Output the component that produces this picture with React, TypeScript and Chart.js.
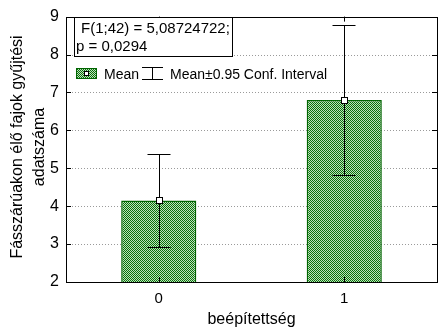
import React, { useEffect, useRef } from "react";
import { Chart, registerables } from "chart.js";

Chart.register(...registerables);

const categories = ["0", "1"];
const means = [4.15, 6.8];
const ciLow = [2.93, 4.82];
const ciHigh = [5.37, 8.77];
const yTicks = [2, 3, 4, 5, 6, 7, 8, 9];
const statLine1 = "F(1;42) = 5,08724722;";
const statLine2 = "p = 0,0294";
const legendMean = "Mean";
const legendCI = "Mean±0.95 Conf. Interval";
const yTitle = ["Fásszárúakon élő fajok gyűjtési", "adatszáma"];
const xTitle = "beépítettség";

function makePattern(ctx: CanvasRenderingContext2D) {
  const c = document.createElement("canvas");
  c.width = 2;
  c.height = 2;
  const g = c.getContext("2d")!;
  g.fillStyle = "#bce2bc";
  g.fillRect(0, 0, 2, 2);
  g.fillStyle = "#0a700a";
  g.fillRect(0, 0, 1, 1);
  g.fillRect(1, 1, 1, 1);
  return ctx.createPattern(c, "repeat")!;
}

const FONT = "'Liberation Sans', Arial, sans-serif";

const gridPlugin = {
  id: "dotgrid",
  beforeDatasetsDraw(chart: any) {
    const ctx = chart.ctx as CanvasRenderingContext2D;
    const { left, right } = chart.chartArea;
    const y = chart.scales.y;
    ctx.save();
    ctx.strokeStyle = "#9a9a9a";
    ctx.lineWidth = 1;
    ctx.setLineDash([1, 2]);
    yTicks.slice(1, -1).forEach((v) => {
      const py = Math.round(y.getPixelForValue(v)) + 0.5;
      ctx.beginPath();
      ctx.moveTo(left, py);
      ctx.lineTo(right, py);
      ctx.stroke();
    });
    ctx.restore();
  },
};

const overlay = {
  id: "overlay",
  afterDatasetsDraw(chart: any) {
    const ctx = chart.ctx as CanvasRenderingContext2D;
    const { left, right, top, bottom } = chart.chartArea;
    const x = chart.scales.x;
    const y = chart.scales.y;
    ctx.save();
    ctx.strokeStyle = "#000";
    ctx.lineWidth = 1;
    ctx.strokeRect(Math.round(left) + 0.5, Math.round(top) + 0.5, Math.round(right - left), Math.round(bottom - top));
    yTicks.forEach((v) => {
      const py = Math.round(y.getPixelForValue(v)) + 0.5;
      ctx.beginPath();
      ctx.moveTo(left, py);
      ctx.lineTo(left + 5, py);
      ctx.moveTo(right, py);
      ctx.lineTo(right - 5, py);
      ctx.stroke();
    });
    categories.forEach((_, i) => {
      const px = Math.round(x.getPixelForValue(i)) + 0.5;
      ctx.beginPath();
      ctx.moveTo(px, bottom);
      ctx.lineTo(px, bottom - 5);
      ctx.moveTo(px, top);
      ctx.lineTo(px, top + 5);
      ctx.stroke();
    });
    categories.forEach((_, i) => {
      const px = Math.round(x.getPixelForValue(i)) + 0.5;
      const yl = Math.round(y.getPixelForValue(ciLow[i])) + 0.5;
      const yh = Math.round(y.getPixelForValue(ciHigh[i])) + 0.5;
      const ym = Math.round(y.getPixelForValue(means[i])) + 0.5;
      ctx.beginPath();
      ctx.moveTo(px, yl);
      ctx.lineTo(px, yh);
      ctx.moveTo(px - 12, yl);
      ctx.lineTo(px + 11, yl);
      ctx.moveTo(px - 12, yh);
      ctx.lineTo(px + 11, yh);
      ctx.stroke();
      ctx.fillStyle = "#fff";
      ctx.fillRect(px - 3, ym - 3, 6, 6);
      ctx.strokeRect(px - 3, ym - 3, 6, 6);
    });
    ctx.fillStyle = "#fff";
    ctx.fillRect(74.5, 17.5, 158, 39);
    ctx.strokeRect(74.5, 17.5, 158, 39);
    ctx.fillStyle = "#000";
    ctx.font = `15px ${FONT}`;
    ctx.textBaseline = "alphabetic";
    ctx.textAlign = "left";
    ctx.fillText(statLine1, 81, 33);
    ctx.fillText(statLine2, 76, 51);
    ctx.fillStyle = makePattern(ctx);
    ctx.fillRect(76, 68, 21, 11);
    ctx.strokeStyle = "#006400";
    ctx.strokeRect(76.5, 68.5, 20, 10);
    ctx.fillStyle = "#fff";
    ctx.strokeStyle = "#000";
    ctx.fillRect(84.5, 71.5, 4, 4);
    ctx.strokeRect(84.5, 71.5, 4, 4);
    ctx.fillStyle = "#000";
    ctx.font = `14px ${FONT}`;
    ctx.fillText(legendMean, 104, 79);
    ctx.beginPath();
    ctx.moveTo(142, 67.5);
    ctx.lineTo(163, 67.5);
    ctx.moveTo(142, 79.5);
    ctx.lineTo(163, 79.5);
    ctx.moveTo(152.5, 67.5);
    ctx.lineTo(152.5, 79.5);
    ctx.stroke();
    ctx.fillText(legendCI, 170, 79);
    ctx.font = `16px ${FONT}`;
    ctx.textAlign = "center";
    ctx.fillText(xTitle, (left + right) / 2, 324);
    ctx.save();
    ctx.translate(22, 147);
    ctx.rotate(-Math.PI / 2);
    ctx.fillText(yTitle[0], 0, 0);
    ctx.fillText(yTitle[1], 0, 22);
    ctx.restore();
    ctx.restore();
  },
};

export default function App() {
  const ref = useRef<HTMLCanvasElement>(null);
  useEffect(() => {
    document.body.style.margin = "0";
    const canvas = ref.current!;
    const ctx = canvas.getContext("2d")!;
    const chart = new Chart(ctx, {
      type: "bar",
      data: {
        labels: categories,
        datasets: [
          {
            data: means,
            backgroundColor: makePattern(ctx),
            borderColor: "#006400",
            borderWidth: 1.5,
            barPercentage: 0.405,
            categoryPercentage: 1,
          },
        ],
      },
      options: {
        animation: false,
        responsive: false,
        layout: { padding: { top: 12, right: 8, left: 0, bottom: 0 } },
        plugins: { legend: { display: false }, tooltip: { enabled: false } },
        scales: {
          x: {
            grid: { display: false, drawTicks: false },
            border: { display: false },
            ticks: { color: "#000", font: { size: 15, family: FONT }, padding: 8 },
            afterFit: (s: any) => {
              s.height = 52;
            },
          },
          y: {
            min: 2,
            max: 9,
            afterBuildTicks: (s: any) => {
              s.ticks = yTicks.map((v) => ({ value: v }));
            },
            grid: { display: false, drawTicks: false },
            border: { display: false },
            ticks: { color: "#000", font: { size: 16, family: FONT }, padding: 7 },
            afterFit: (s: any) => {
              s.width = 66;
            },
          },
        },
      },
      plugins: [gridPlugin, overlay],
    });
    return () => chart.destroy();
  }, []);
  return (
    <div style={{ position: "absolute", left: 0, top: 0, width: 445, height: 334, background: "#fff" }}>
      <canvas ref={ref} width={445} height={334} />
    </div>
  );
}
